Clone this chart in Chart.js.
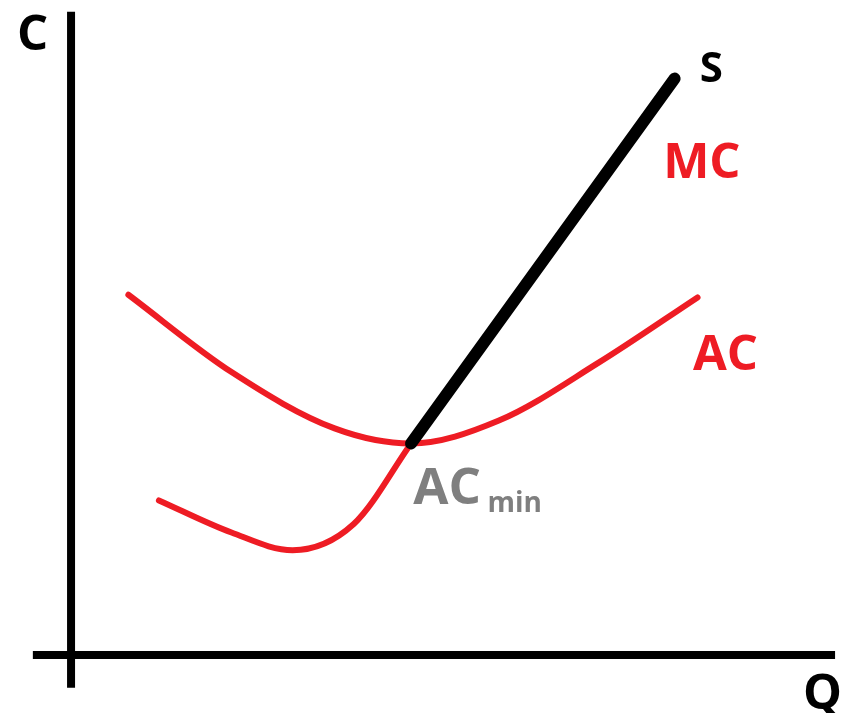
<!DOCTYPE html>
<html>
<head>
<meta charset="utf-8">
<script src="https://cdn.jsdelivr.net/npm/chart.js@4.4.1/dist/chart.umd.min.js"></script>
<style>
  html, body { margin: 0; padding: 0; background: #fff; }
  canvas { display: block; }
</style>
</head>
<body>
<canvas id="chart" width="845" height="713"></canvas>
<script>
// Average cost curve (U shape)
const acQ = [7.5, 21, 34.5, 44.5, 56, 69, 82];
const acC = [55, 43.2, 34.6, 32.3, 35.8, 44.6, 54.6];

// Marginal cost curve, lower part up to AC minimum
const mcQ = [11.5, 21, 29, 37, 44.5];
const mcC = [23.6, 18.7, 16, 20, 32.3];

// Supply curve = MC above AC minimum
const sQ = [44.5, 79];
const sC = [32.3, 88];

// Axis extents
const qAxis = [-5, 100];
const cAxis = [-5, 98.2];

const RED = "#ee1c24";

function toPoints(xs, ys) {
  return xs.map((x, i) => ({ x: x, y: ys[i] }));
}

// Text labels in data units (left, baseline)
const labels = [
  { text: "C", q: -7.06, c: 92.4, size: 49, color: "#000" },
  { text: "S", q: 82.3, c: 87.5, size: 42, color: "#000" },
  { text: "MC", q: 77.5, c: 72.8, size: 49, color: RED },
  { text: "AC", q: 81.4, c: 43.5, size: 49, color: RED },
  { text: "AC", q: 44.8, c: 23.0, size: 51, color: "#7f7f7f" },
  { text: "min", q: 54.5, c: 21.8, size: 28, color: "#7f7f7f" },
  { text: "Q", q: 95.8, c: -8.2, size: 49, color: "#000" }
];

const textPlugin = {
  id: "axisText",
  afterDatasetsDraw(chart) {
    const { ctx, scales } = chart;
    ctx.save();
    ctx.textAlign = "left";
    ctx.textBaseline = "alphabetic";
    labels.forEach(l => {
      ctx.font = `bold ${l.size}px "Open Sans", sans-serif`;
      ctx.fillStyle = l.color;
      ctx.fillText(l.text, scales.x.getPixelForValue(l.q), scales.y.getPixelForValue(l.c));
    });
    ctx.restore();
  }
};

new Chart(document.getElementById("chart"), {
  type: "scatter",
  data: {
    datasets: [
      {
        label: "S",
        data: toPoints(sQ, sC),
        showLine: true,
        borderColor: "#000",
        borderWidth: 12,
        borderCapStyle: "round",
        pointRadius: 0,
        order: 0
      },
      {
        label: "MC",
        data: toPoints(mcQ, mcC),
        showLine: true,
        borderColor: RED,
        borderWidth: 6,
        borderCapStyle: "round",
        cubicInterpolationMode: "monotone",
        pointRadius: 0,
        order: 1
      },
      {
        label: "AC",
        data: toPoints(acQ, acC),
        showLine: true,
        borderColor: RED,
        borderWidth: 6,
        borderCapStyle: "round",
        cubicInterpolationMode: "monotone",
        pointRadius: 0,
        order: 2
      },
      {
        label: "C axis",
        data: [{ x: 0, y: cAxis[0] }, { x: 0, y: cAxis[1] }],
        showLine: true,
        borderColor: "#000",
        borderWidth: 8,
        pointRadius: 0,
        order: 3
      },
      {
        label: "Q axis",
        data: [{ x: qAxis[0], y: 0 }, { x: qAxis[1], y: 0 }],
        showLine: true,
        borderColor: "#000",
        borderWidth: 8,
        pointRadius: 0,
        order: 3
      }
    ]
  },
  options: {
    responsive: false,
    maintainAspectRatio: false,
    devicePixelRatio: 1,
    animation: false,
    layout: { padding: 0 },
    plugins: {
      legend: { display: false },
      tooltip: { enabled: false }
    },
    scales: {
      x: { type: "linear", min: -9.3, max: 101.3, display: false },
      y: { type: "linear", min: -8.85, max: 100, display: false }
    }
  },
  plugins: [textPlugin]
});
</script>
</body>
</html>
